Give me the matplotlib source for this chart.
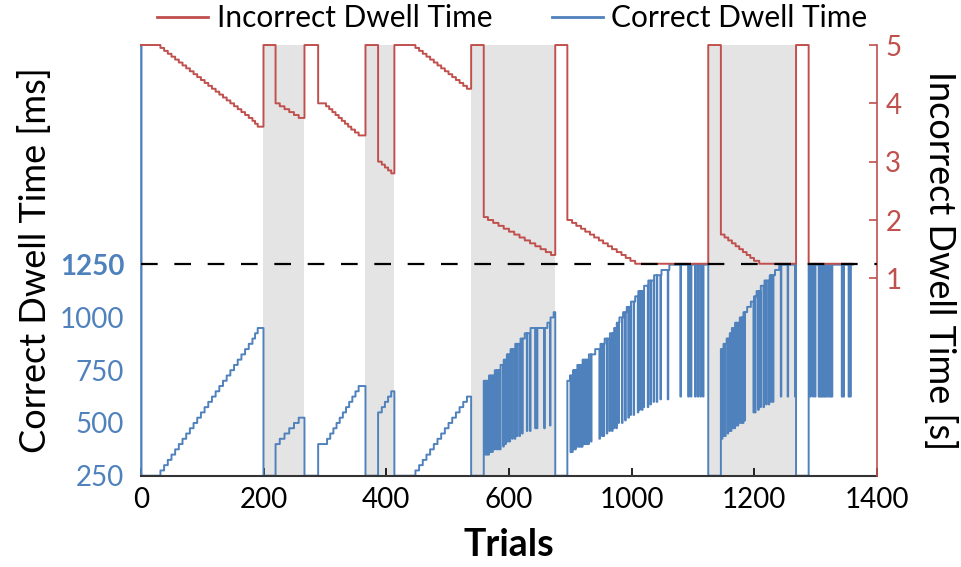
import numpy as np
import matplotlib
matplotlib.use('Agg')
import matplotlib.pyplot as plt
from matplotlib.lines import Line2D

plt.rcParams['font.family'] = ['Lato', 'DejaVu Sans']

BLUE = '#4F81BD'
RED = '#C0504D'
SHADE = '#E4E4E4'

# incorrect dwell time [s]: trial where a new level starts, and the level
red_step_trials = [0, 37, 44, 51, 58, 65, 72, 79, 86, 93, 100, 107, 114, 121, 128, 135, 142, 149, 156,
                   163, 170, 177, 184, 191, 198, 205, 212, 217, 222,
                   233, 256, 264, 273, 282, 291, 300,
                   311, 337, 352, 358, 364, 370, 376, 382, 388, 394, 400, 407, 414,
                   427, 451, 458, 464, 470, 476,
                   482, 522, 529, 536, 543, 550, 557, 564, 571, 578, 585, 592, 599, 606, 613, 620,
                   628, 652, 660, 670, 680, 690, 700, 710, 720, 730, 740, 750, 760, 770, 780,
                   788, 811, 820, 828, 837, 845, 854, 862, 871, 879, 888, 896, 905, 914, 922, 931, 940,
                   1079, 1103, 1110, 1117, 1124, 1131, 1138, 1145, 1152, 1159, 1166, 1176,
                   1246, 1270]
red_step_values = [5.0, 4.95, 4.90, 4.85, 4.80, 4.75, 4.70, 4.65, 4.60, 4.55, 4.50, 4.45, 4.40, 4.35, 4.30,
                   4.25, 4.20, 4.15, 4.10, 4.05, 4.00, 3.95, 3.90, 3.85, 3.80, 3.75, 3.70, 3.65, 3.60,
                   5.0, 4.00, 3.95, 3.90, 3.85, 3.80, 3.75,
                   5.0, 4.00, 3.95, 3.90, 3.85, 3.80, 3.75, 3.70, 3.65, 3.60, 3.55, 3.50, 3.45,
                   5.0, 3.00, 2.95, 2.90, 2.85, 2.80,
                   5.0, 4.95, 4.90, 4.85, 4.80, 4.75, 4.70, 4.65, 4.60, 4.55, 4.50, 4.45, 4.40, 4.35, 4.30, 4.25,
                   5.0, 2.05, 2.00, 1.95, 1.90, 1.85, 1.80, 1.75, 1.70, 1.65, 1.60, 1.55, 1.50, 1.45, 1.40,
                   5.0, 2.00, 1.95, 1.90, 1.85, 1.80, 1.75, 1.70, 1.65, 1.60, 1.55, 1.50, 1.45, 1.40, 1.35, 1.30, 1.25,
                   5.0, 1.75, 1.70, 1.65, 1.60, 1.55, 1.50, 1.45, 1.40, 1.35, 1.30, 1.25,
                   5.0, 1.25]

# correct dwell time [ms], upper envelope
blue_step_trials = [0, 1, 37, 44, 51, 58, 65, 72, 79, 86, 93, 100, 107, 114, 121, 128, 135, 142, 149, 156,
                    163, 170, 177, 184, 191, 198, 205, 212, 217, 222,
                    233, 256, 264, 273, 282, 291, 300,
                    311, 337, 354, 360, 366, 372, 378, 384, 390, 396, 402, 408, 414,
                    427, 451, 458, 464, 470, 476,
                    482, 522, 529, 536, 543, 550, 557, 564, 571, 578, 585, 592, 599, 606, 613, 620,
                    628, 652, 662, 672, 684, 690, 696, 703, 712, 722, 730, 741, 773, 779, 785,
                    788, 811, 816, 822, 829, 840, 852, 864, 874, 882, 891, 899, 905, 910, 917, 924, 931,
                    940, 946, 956, 965, 975, 990, 1005,
                    1079, 1103, 1108, 1114, 1119, 1124, 1130, 1138, 1146, 1153, 1160, 1165, 1171, 1178,
                    1186, 1196, 1206, 1214,
                    1246, 1270]
blue_step_values = [2290, 250, 275, 300, 325, 350, 375, 400, 425, 450, 475, 500, 525, 550, 575, 600, 625,
                    650, 675, 700, 725, 750, 775, 800, 825, 850, 875, 900, 925, 950,
                    250, 400, 425, 450, 475, 500, 525,
                    250, 400, 425, 450, 475, 500, 525, 550, 575, 600, 625, 650, 675,
                    250, 550, 575, 600, 625, 650,
                    250, 275, 300, 325, 350, 375, 400, 425, 450, 475, 500, 525, 550, 575, 600, 625,
                    250, 700, 725, 750, 775, 800, 825, 850, 875, 900, 925, 950, 975, 1000, 1025,
                    250, 700, 725, 750, 775, 800, 825, 850, 875, 900, 925, 950, 975, 1000, 1025, 1050, 1075,
                    1100, 1125, 1150, 1175, 1200, 1225, 1250,
                    250, 850, 875, 900, 925, 950, 975, 1000, 1025, 1050, 1075, 1100, 1125, 1150,
                    1175, 1200, 1225, 1250,
                    250, 1250]

# single trials where the correct dwell time dropped
dip_trials = [655, 658, 661, 664, 668, 672, 676, 680, 683, 689, 693, 697, 701, 706, 711, 715, 720, 725,
              734, 740, 750, 753, 767, 778,
              817, 820, 823, 826, 829, 832, 834, 837, 839, 842, 845, 848, 851, 856, 872, 877, 880, 886,
              891, 896, 899, 904, 908, 915, 921, 927, 931, 937, 945, 948, 953, 956, 964, 969, 975, 981,
              988, 1002, 1026, 1041, 1046, 1054, 1059, 1064, 1069,
              1105, 1109, 1111, 1116, 1119, 1122, 1126, 1129, 1132, 1135, 1138, 1142, 1145, 1148, 1165,
              1168, 1174, 1178, 1184, 1189, 1194, 1198, 1202, 1217, 1230, 1244,
              1273, 1278, 1282, 1289, 1292, 1295, 1298, 1301, 1304, 1308, 1311, 1314, 1333, 1336, 1346, 1349]
dip_values = [350, 350, 350, 362, 362, 375, 375, 375, 375, 388, 400, 412, 412, 425, 425, 438, 438, 450,
              462, 462, 475, 475, 475, 488,
              362, 362, 375, 375, 388, 388, 388, 388, 388, 400, 400, 400, 400, 412, 425, 438, 438, 450,
              462, 462, 475, 475, 500, 500, 512, 525, 538, 538, 550, 562, 562, 575, 575, 588, 600, 600,
              612, 612, 625, 625, 625, 625, 625, 625, 625,
              425, 438, 438, 450, 462, 462, 475, 475, 488, 488, 500, 500, 500, 512, 550,
              550, 562, 575, 575, 588, 588, 600, 600, 625, 625, 625,
              625, 625, 625, 625, 625, 625, 625, 625, 625, 625, 625, 625, 625, 625, 625, 625]

last_trial = 1354
shade_start = [233, 427, 628, 1079]
shade_end = [311, 482, 788, 1246]

x_tick_labels = ['0', '200', '400', '600', '1000', '1200', '1400']
left_ticks = [250, 500, 750, 1000, 1250]
right_ticks = [1, 2, 3, 4, 5]
threshold_s = 1.25

trials = np.arange(last_trial + 1)


def expand_steps(step_t, step_v):
    idx = np.searchsorted(step_t, trials, side='right') - 1
    return np.asarray(step_v, dtype=float)[idx]


blue = expand_steps(blue_step_trials, blue_step_values)
blue[dip_trials] = dip_values
red = expand_steps(red_step_trials, red_step_values)

fig = plt.figure(figsize=(9.61, 5.67), dpi=100)
ax = fig.add_axes([0.1467, 0.161, 0.7659, 0.7596])
ax2 = ax.twinx()

for s, e in zip(shade_start, shade_end):
    ax.axvspan(s, e, color=SHADE, lw=0, zorder=0)

ax.step(trials, blue, where='post', color=BLUE, lw=1.4, zorder=2)
ax2.step(trials, red, where='post', color=RED, lw=1.4, clip_on=False)
ax2.axhline(threshold_s, color='black', lw=1.6, dashes=(7.5, 7.5), zorder=5)

ax.set_xlim(0, 1400)
ax.set_ylim(250, 2291)
ax2.set_ylim(-2.384, 5.0)

ax.set_xticks(np.linspace(0, 1400, len(x_tick_labels)))
ax.set_xticklabels(x_tick_labels)
ax.set_yticks(left_ticks)
ax.set_yticklabels([str(v) for v in left_ticks])
ax.get_yticklabels()[-1].set_fontweight('bold')
ax2.set_yticks(right_ticks)

for sp in ['top', 'right']:
    ax.spines[sp].set_visible(False)
for sp in ['top', 'left', 'bottom']:
    ax2.spines[sp].set_visible(False)
ax.spines['left'].set_color(BLUE)
ax.spines['left'].set_linewidth(1.2)
ax.spines['bottom'].set_color('#333333')
ax.spines['bottom'].set_linewidth(1.5)
ax2.spines['right'].set_color(RED)
ax2.spines['right'].set_linewidth(1.2)

ax.tick_params(axis='x', direction='in', length=6, width=1.2, labelsize=20, pad=8)
ax.tick_params(axis='y', length=0, labelsize=20, labelcolor=BLUE, pad=12)
ax2.tick_params(axis='y', direction='in', length=6, width=1.2, color=RED,
                labelcolor=RED, labelsize=20, pad=6)

ax.set_ylabel('Correct Dwell Time [ms]', fontsize=26)
ax.yaxis.set_label_coords(-0.144, 0.5)
ax.yaxis.label.set_va('center')
ax2.set_ylabel('Incorrect Dwell Time [s]', fontsize=26, rotation=270)
ax2.yaxis.set_label_coords(1.0856, 0.5)
ax2.yaxis.label.set_va('center')
ax.set_xlabel('Trials', fontsize=27, fontweight='bold')
ax.xaxis.set_label_coords(0.5, -0.161)
ax.xaxis.label.set_va('center')

handles = [Line2D([], [], color=RED, lw=2), Line2D([], [], color=BLUE, lw=2)]
fig.legend(handles, ['Incorrect Dwell Time', 'Correct Dwell Time'], loc='center',
           bbox_to_anchor=(0.533, 0.968), ncol=2, frameon=False, fontsize=21.5,
           handlelength=1.7, handletextpad=0.3, columnspacing=2.0)

fig.savefig('out.png', dpi=100)
